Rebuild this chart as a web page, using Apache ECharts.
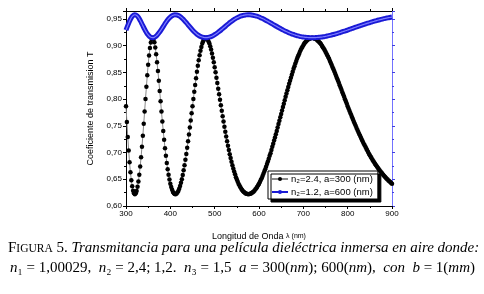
<!DOCTYPE html>
<html>
<head>
<meta charset="utf-8">
<script src="https://cdn.jsdelivr.net/npm/echarts@6.0.0/dist/echarts.min.js"></script>
<style>
  html, body { margin: 0; padding: 0; background: #fff; }
  #chart { width: 484px; height: 294px; }
</style>
</head>
<body>
<div id="chart"></div>
<script>
// longitud de onda (nm): inicio y paso de muestreo de cada curva
var lambdaStart = 300;
var stepN24 = 2;   // curva negra
var stepN12 = 5;   // curva azul

// T para n2=2.4, a=300 nm (cada 2 nm desde 300)
var tN24 = [
  0.7869,0.7571,0.7293,0.7041,0.6818,0.6634,0.6484,0.6368,0.6286,0.6238,
  0.6220,0.6237,0.6283,0.6358,0.6459,0.6587,0.6739,0.6913,0.7107,0.7317,
  0.7539,0.7770,0.8003,0.8230,0.8446,0.8644,0.8816,0.8957,0.9062,0.9126,
  0.9150,0.9126,0.9064,0.8968,0.8842,0.8692,0.8525,0.8343,0.8153,0.7960,
  0.7770,0.7584,0.7406,0.7240,0.7083,0.6939,0.6807,0.6690,0.6587,0.6496,
  0.6416,0.6355,0.6305,0.6264,0.6239,0.6226,0.6221,0.6232,0.6252,0.6281,
  0.6322,0.6374,0.6433,0.6503,0.6582,0.6667,0.6764,0.6866,0.6974,0.7091,
  0.7212,0.7338,0.7468,0.7599,0.7734,0.7869,0.8005,0.8138,0.8267,0.8392,
  0.8512,0.8624,0.8729,0.8821,0.8908,0.8977,0.9043,0.9083,0.9123,0.9136,
  0.9150,0.9137,0.9123,0.9086,0.9048,0.8990,0.8930,0.8855,0.8777,0.8690,
  0.8599,0.8503,0.8402,0.8301,0.8197,0.8094,0.7988,0.7884,0.7781,0.7679,
  0.7580,0.7484,0.7390,0.7300,0.7212,0.7129,0.7048,0.6970,0.6899,0.6827,
  0.6764,0.6702,0.6644,0.6592,0.6540,0.6496,0.6454,0.6414,0.6382,0.6350,
  0.6322,0.6300,0.6277,0.6261,0.6248,0.6235,0.6229,0.6223,0.6220,0.6223,
  0.6229,0.6234,0.6247,0.6258,0.6271,0.6292,0.6313,0.6334,0.6361,0.6389,
  0.6416,0.6451,0.6486,0.6521,0.6561,0.6603,0.6644,0.6689,0.6737,0.6784,
  0.6833,0.6886,0.6939,0.6989,0.7049,0.7107,0.7164,0.7224,0.7284,0.7345,
  0.7406,0.7470,0.7533,0.7596,0.7659,0.7724,0.7788,0.7852,0.7916,0.7980,
  0.8043,0.8105,0.8166,0.8227,0.8287,0.8346,0.8402,0.8459,0.8513,0.8569,
  0.8618,0.8667,0.8714,0.8762,0.8802,0.8842,0.8882,0.8922,0.8951,0.8981,
  0.9010,0.9040,0.9060,0.9078,0.9096,0.9113,0.9126,0.9132,0.9138,0.9144,
  0.9150,0.9144,0.9138,0.9132,0.9126,0.9116,0.9099,0.9083,0.9066,0.9050,
  0.9026,0.8999,0.8973,0.8947,0.8922,0.8888,0.8854,0.8821,0.8788,0.8754,
  0.8714,0.8676,0.8637,0.8598,0.8560,0.8517,0.8475,0.8432,0.8390,0.8348,
  0.8305,0.8260,0.8217,0.8174,0.8130,0.8087,0.8043,0.7999,0.7955,0.7912,
  0.7869,0.7827,0.7784,0.7743,0.7701,0.7659,0.7618,0.7579,0.7539,0.7500,
  0.7461,0.7422,0.7385,0.7349,0.7313,0.7277,0.7242,0.7206,0.7172,0.7140,
  0.7107,0.7075,0.7043,0.7011,0.6980,0.6952,0.6924,0.6896,0.6867,0.6839,
  0.6815,0.6788,0.6764,0.6740,0.6716,0.6692,0.6669,0.6647,0.6627,0.6607,
  0.6587,0.6567,0.6547,0.6527,0.6511,0.6495,0.6479,0.6463,0.6447,0.6432,
  0.6416
];

// T para n2=1.2, a=600 nm (cada 5 nm desde 300)
var tN12 = [
  0.9294,0.9399,0.9493,0.9558,0.9580,0.9561,0.9503,0.9425,0.9341,0.9263,
  0.9202,0.9163,0.9150,0.9162,0.9196,0.9247,0.9308,0.9373,0.9437,0.9493,
  0.9537,0.9566,0.9579,0.9575,0.9558,0.9527,0.9487,0.9440,0.9391,0.9342,
  0.9294,0.9252,0.9216,0.9187,0.9167,0.9155,0.9150,0.9155,0.9165,0.9181,
  0.9207,0.9234,0.9266,0.9299,0.9335,0.9370,0.9404,0.9438,0.9469,0.9497,
  0.9521,0.9541,0.9558,0.9569,0.9577,0.9580,0.9578,0.9572,0.9564,0.9552,
  0.9537,0.9519,0.9500,0.9478,0.9456,0.9432,0.9408,0.9384,0.9360,0.9337,
  0.9314,0.9292,0.9272,0.9253,0.9234,0.9219,0.9205,0.9191,0.9180,0.9170,
  0.9163,0.9157,0.9154,0.9151,0.9150,0.9151,0.9154,0.9157,0.9162,0.9168,
  0.9175,0.9184,0.9194,0.9205,0.9215,0.9227,0.9239,0.9253,0.9267,0.9280,
  0.9294,0.9309,0.9323,0.9338,0.9352,0.9366,0.9380,0.9394,0.9408,0.9422,
  0.9434,0.9447,0.9459,0.9471,0.9482,0.9492,0.9503,0.9513,0.9521,0.9529,
  0.9537
];

var seriesNames = ['n₂=2.4, a=300 (nm)', 'n₂=1.2, a=600 (nm)'];

function pares(vals, step) {
  var out = [];
  for (var i = 0; i < vals.length; i++) {
    out.push([lambdaStart + i * step, vals[i]]);
  }
  return out;
}

var chart = echarts.init(document.getElementById('chart'));
var sans = 'Liberation Sans';
var serif = 'Liberation Serif';

var option = {
  animation: false,
  backgroundColor: '#fff',
  grid: { left: 126, right: 92, top: 11, bottom: 88 },
  xAxis: [
    {
      type: 'value', min: 300, max: 900, interval: 100,
      name: '{a|Longitud de Onda }{b|λ (nm)}',
      nameLocation: 'middle', nameGap: 26,
      nameTextStyle: { rich: {
        a: { fontFamily: sans, fontSize: 9, color: '#000' },
        b: { fontFamily: sans, fontSize: 7, color: '#000' }
      } },
      axisLine: { lineStyle: { color: '#000', width: 1 } },
      axisTick: { length: 3, lineStyle: { color: '#000' } },
      minorTick: { show: true, splitNumber: 2, length: 2, lineStyle: { color: '#000' } },
      axisLabel: { fontFamily: sans, fontSize: 8, color: '#000', margin: 4 },
      splitLine: { show: false }
    },
    {
      type: 'value', position: 'top', min: 300, max: 900, interval: 100,
      axisLine: { lineStyle: { color: '#000', width: 1 } },
      axisTick: { length: 3, lineStyle: { color: '#000' } },
      minorTick: { show: true, splitNumber: 2, length: 2, lineStyle: { color: '#000' } },
      axisLabel: { show: false },
      splitLine: { show: false }
    }
  ],
  yAxis: [
    {
      type: 'value', min: 0.6, max: 0.965, interval: 0.05,
      name: 'Coeficiente de transmision T',
      nameLocation: 'middle', nameGap: 31,
      nameTextStyle: { fontFamily: sans, fontSize: 9, color: '#000' },
      axisLine: { show: true, lineStyle: { color: '#000', width: 1 } },
      axisTick: { show: true, length: 3, lineStyle: { color: '#000' } },
      minorTick: { show: true, splitNumber: 2, length: 2, lineStyle: { color: '#000' } },
      axisLabel: {
        fontFamily: sans, fontSize: 8, color: '#000', margin: 4, showMaxLabel: false,
        formatter: function (v) { return v.toFixed(2).replace('.', ','); }
      },
      splitLine: { show: false }
    },
    {
      type: 'value', position: 'right', min: 0.6, max: 0.965, interval: 0.05,
      axisLine: { show: true, lineStyle: { color: '#7373ff', width: 1 } },
      axisTick: { show: true, length: 3, lineStyle: { color: '#4040e0' } },
      minorTick: { show: true, splitNumber: 2, length: 2, lineStyle: { color: '#4040e0' } },
      axisLabel: { show: false },
      splitLine: { show: false }
    }
  ],
  legend: {
    data: seriesNames,
    orient: 'vertical',
    left: 268, top: 171,
    itemWidth: 16, itemHeight: 5, itemGap: 3,
    padding: [3, 5, 2, 3],
    backgroundColor: '#fff',
    borderColor: '#000', borderWidth: 1, borderRadius: 0,
    shadowColor: '#000', shadowBlur: 0, shadowOffsetX: 3, shadowOffsetY: 3,
    textStyle: { fontFamily: sans, fontSize: 9.5, color: '#000', padding: [0, 0, 0, -2] }
  },
  series: [
    {
      name: seriesNames[0],
      type: 'line',
      data: pares(tN24, stepN24),
      showSymbol: true, showAllSymbol: true,
      symbol: 'circle', symbolSize: 4.5,
      itemStyle: { color: '#000' },
      lineStyle: { color: '#8a8a8a', width: 1 },
      z: 2
    },
    {
      name: seriesNames[1],
      type: 'line',
      data: pares(tN12, stepN12),
      smooth: true,
      showSymbol: false,
      symbol: 'circle', symbolSize: 4,
      itemStyle: { color: '#1a1ad6' },
      lineStyle: { color: '#1a1ad6', width: 5 },
      z: 3
    },
    {
      name: 'centro',
      type: 'line',
      data: pares(tN12, stepN12),
      smooth: true,
      showSymbol: false,
      lineStyle: { color: '#7d7dff', width: 1.2 },
      silent: true,
      z: 4
    }
  ],
  graphic: [
    {
      type: 'text', left: 8, top: 241,
      style: {
        text: '{r|F}{sc|IGURA}{r| 5. }{i|Transmitancia para una película dieléctrica inmersa en aire donde:}',
        rich: {
          r: { fontFamily: serif, fontSize: 15, fill: '#000' },
          sc: { fontFamily: serif, fontSize: 11.5, fill: '#000' },
          i: { fontFamily: serif, fontSize: 15, fontStyle: 'italic', fill: '#000' }
        }
      }
    },
    {
      type: 'text', left: 10, top: 261,
      style: {
        text: '{i|n}{r|₁ = 1,00029,  }{i|n}{r|₂ = 2,4; 1,2.  }{i|n}{r|₃ = 1,5  }{i|a}{r| = 300(}{i|nm}{r|); 600(}{i|nm}{r|),  }{i|con  b}{r| = 1(}{i|mm}{r|)}',
        rich: {
          r: { fontFamily: serif, fontSize: 15, fill: '#000' },
          i: { fontFamily: serif, fontSize: 15, fontStyle: 'italic', fill: '#000' }
        }
      }
    }
  ]
};

chart.setOption(option);
</script>
</body>
</html>
